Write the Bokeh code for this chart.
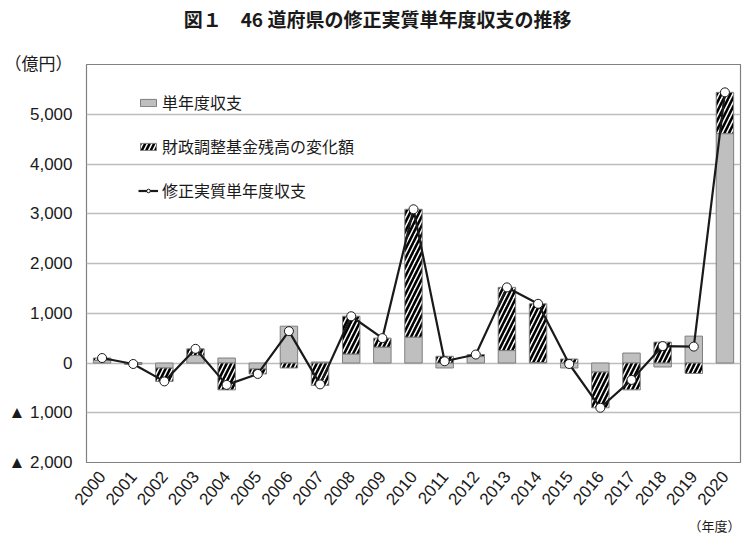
import math
from bokeh.plotting import figure
from bokeh.models import (FactorRange, Range1d, FixedTicker, Legend, LegendItem,
                          Title, CategoricalAxis, ColumnDataSource)
from bokeh.embed import file_html
from bokeh.resources import INLINE

years = [str(y) for y in range(2000, 2021)]
single_year = [50, -30, -100, 150, 100, -120, 740, 20, 180, 320, 520, -100, 130,
               250, 10, -100, -180, 200, -80, 540, 4610]
fund_change = [50, 10, -270, 135, -540, -100, -100, -450, 760, 180, 2570, 135, 40,
               1270, 1180, 80, -720, -540, 420, -210, 830]
adjusted = [100, -20, -370, 285, -440, -220, 640, -430, 940, 500, 3090, 35, 170,
            1520, 1190, -20, -900, -340, 340, 330, 5440]
y_ticks = [-2000, -1000, 0, 1000, 2000, 3000, 4000, 5000]
y_tick_labels = ["▲ 2,000", "▲ 1,000", "0", "1,000", "2,000", "3,000", "4,000", "5,000"]

title_text = "図１　46 道府県の修正実質単年度収支の推移"
unit_text = "（億円）"
xunit_text = "（年度）"
names = ["単年度収支", "財政調整基金残高の変化額", "修正実質単年度収支"]

JP = "'Noto Sans CJK JP', sans-serif"
NUM = "'Liberation Sans', 'Noto Sans CJK JP', sans-serif"
INK = "#1a1a1a"

# stacking: positive and negative parts stack separately
g_bottom = [0] * len(years)
g_top = single_year
h_bottom = [g if (g >= 0) == (h >= 0) else 0 for g, h in zip(single_year, fund_change)]
h_top = [b + h for b, h in zip(h_bottom, fund_change)]

src = ColumnDataSource(dict(x=years, gb=g_bottom, gt=g_top, hb=h_bottom, ht=h_top, tot=adjusted))

Y_MIN, Y_MAX = -2000, 6000
p = figure(x_range=FactorRange(*years), y_range=Range1d(Y_MIN, Y_MAX),
           width=742, height=534, output_backend="svg", toolbar_location=None,
           title=None,
           min_border_left=86, min_border_right=2, min_border_top=64, min_border_bottom=72)

p.outline_line_color = "#808080"
p.outline_line_width = 1.2
p.background_fill_color = "white"
p.border_fill_color = "white"

p.ygrid.grid_line_color = "#bdbdbd"
p.ygrid.grid_line_width = 1.3
p.xgrid.grid_line_color = None

# y axis; the unit caption sits at the top of the value axis
overrides = {t: l for t, l in zip(y_ticks, y_tick_labels)}
overrides[Y_MAX] = unit_text
p.yaxis.ticker = FixedTicker(ticks=y_ticks + [Y_MAX])
p.yaxis.major_label_overrides = overrides
p.yaxis.axis_line_color = None
p.yaxis.major_tick_line_color = None
p.yaxis.minor_tick_line_color = None
p.yaxis.major_label_standoff = 8
p.yaxis.major_label_text_font = NUM
p.yaxis.major_label_text_font_size = "17px"
p.yaxis.major_label_text_color = INK

p.xaxis.axis_line_color = None
p.xaxis.major_tick_line_color = None
p.xaxis.minor_tick_line_color = None
p.xaxis.major_label_orientation = 50 * math.pi / 180
p.xaxis.major_label_standoff = 5
p.xaxis.major_label_text_font = NUM
p.xaxis.major_label_text_font_size = "17px"
p.xaxis.major_label_text_color = INK

# chart title drawn as the only visible factor of a bare categorical axis above the plot
# (the other slots are distinct blank strings, so they draw nothing)
slots = [" " * (i + 1) for i in range(100)]
slots[44] = title_text
p.extra_x_ranges = {"title": FactorRange(factors=slots, range_padding=0)}
tax = CategoricalAxis(x_range_name="title",
                      axis_line_color=None, major_tick_line_color=None,
                      minor_tick_line_color=None, major_label_standoff=27,
                      major_label_text_font=JP, major_label_text_font_size="19px",
                      major_label_text_font_style="bold", major_label_text_color=INK)
p.add_layout(tax, "above")

bw = 0.56
r_gray = p.vbar(x="x", bottom="gb", top="gt", width=bw, source=src,
                fill_color="#bfbfbf", line_color="#7f7f7f", line_width=1)
r_hatch = p.vbar(x="x", bottom="hb", top="ht", width=bw, source=src,
                 fill_color="white", line_color="#7f7f7f", line_width=1,
                 hatch_pattern="/", hatch_color="black", hatch_weight=2.6, hatch_scale=9)
r_line = p.line(x="x", y="tot", source=src, line_color=INK, line_width=2.2)
r_pts = p.scatter(x="x", y="tot", source=src, size=9, fill_color="white",
                  line_color=INK, line_width=1)

legend = Legend(items=[LegendItem(label=names[0], renderers=[r_gray]),
                       LegendItem(label=names[1], renderers=[r_hatch]),
                       LegendItem(label=names[2], renderers=[r_line, r_pts])],
                location=(52, 260), background_fill_alpha=0, border_line_color=None,
                label_text_font=JP, label_text_font_size="16px", label_text_color=INK,
                glyph_width=20, glyph_height=9, label_height=22, spacing=20,
                padding=0, margin=0, label_standoff=4)
p.add_layout(legend)

p.add_layout(Title(text=xunit_text, align="right", offset=0, standoff=0,
                   text_font=JP, text_font_size="13px", text_font_style="normal",
                   text_color=INK), "below")

open("out.html", "w").write(file_html(p, INLINE))
